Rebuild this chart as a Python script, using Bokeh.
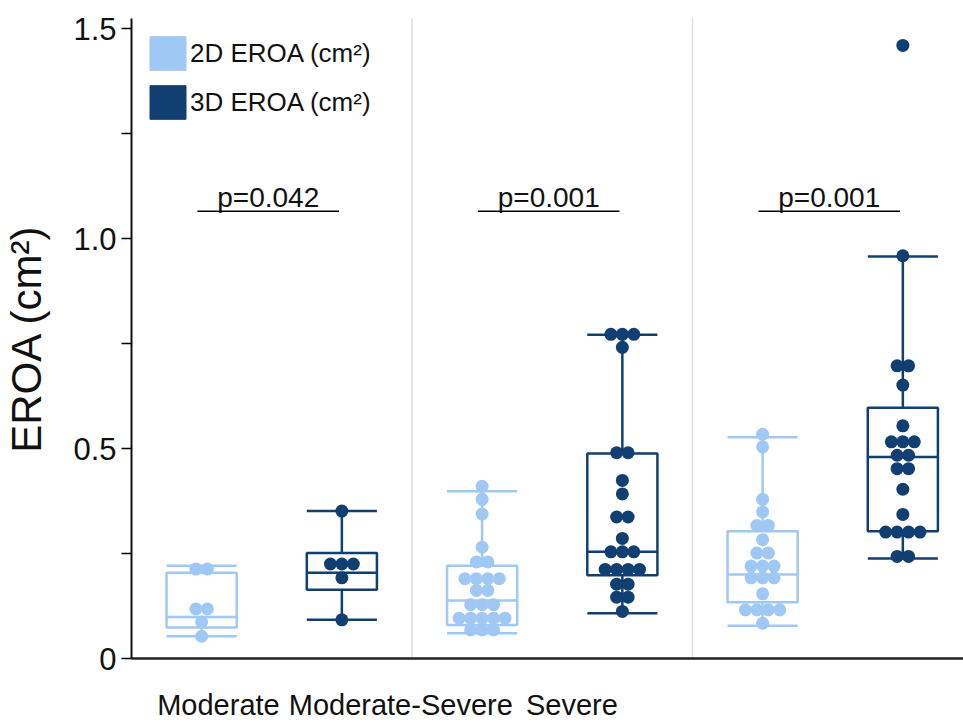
from bokeh.plotting import figure
from bokeh.models import (ColumnDataSource, FixedTicker, CustomJSTickFormatter, Span,
                          Legend, LegendItem, Range1d)
from bokeh.embed import file_html
from bokeh.resources import INLINE
from bokeh.core.properties import value

# ---------------- data ----------------
groups = ["Moderate", "Moderate-Severe", "Severe"]
series = ["2D EROA (cm²)", "3D EROA (cm²)"]
colors = ["#A0C8F5", "#123F72"]
p_values = ["p=0.042", "p=0.001", "p=0.001"]

# individual measurements (cm²)
mod_2d = [0.213, 0.213, 0.118, 0.118, 0.087, 0.053]
mod_3d = [0.351, 0.225, 0.225, 0.225, 0.192, 0.092]
modsev_2d = [0.410, 0.379, 0.344, 0.265, 0.230, 0.230,
             0.190, 0.190, 0.190, 0.190, 0.162, 0.162,
             0.128, 0.128, 0.128, 0.096, 0.096, 0.096, 0.096, 0.096,
             0.068, 0.068, 0.068]
modsev_3d = [0.772, 0.772, 0.772, 0.741, 0.490, 0.490, 0.424, 0.392,
             0.337, 0.337, 0.286, 0.254, 0.254, 0.254,
             0.212, 0.212, 0.212, 0.212, 0.177, 0.177, 0.146, 0.146, 0.112]
sev_2d = [0.534, 0.504, 0.379, 0.349, 0.317, 0.317, 0.283, 0.251, 0.251,
          0.220, 0.220, 0.220, 0.192, 0.192, 0.192, 0.154,
          0.116, 0.116, 0.116, 0.116, 0.084]
sev_3d = [1.460, 0.959, 0.697, 0.697, 0.651, 0.554, 0.516, 0.516, 0.516,
          0.484, 0.484, 0.452, 0.452, 0.403, 0.343,
          0.301, 0.301, 0.301, 0.301, 0.243, 0.243]

# box statistics: [lower whisker, Q1, median, Q3, upper whisker]
mod_2d_box = [0.053, 0.074, 0.099, 0.204, 0.221]
mod_3d_box = [0.092, 0.164, 0.204, 0.251, 0.351]
modsev_2d_box = [0.060, 0.080, 0.138, 0.221, 0.398]
modsev_3d_box = [0.108, 0.198, 0.254, 0.488, 0.771]
sev_2d_box = [0.078, 0.134, 0.200, 0.303, 0.527]
sev_3d_box = [0.238, 0.303, 0.480, 0.597, 0.957]

points = [[mod_2d, mod_3d], [modsev_2d, modsev_3d], [sev_2d, sev_3d]]
boxes = [[mod_2d_box, mod_3d_box], [modsev_2d_box, modsev_3d_box], [sev_2d_box, sev_3d_box]]

# ---------------- layout constants ----------------
FONT = "Liberation Sans"
PX_PER_UNIT = 281.5
series_offset = [0.25, 0.75]
half_box = 0.125
dot_step = 11.5 / PX_PER_UNIT
label_pos = [0.31, 0.96, 1.57]
pbar_y = 1.065
ptext_y = 1.098
pbar_span = (0.235, 0.74)

p = figure(width=963, height=724, output_backend="svg", toolbar_location=None,
           x_range=Range1d(0, 835 / PX_PER_UNIT), y_range=Range1d(0, 1.524),
           min_border_left=128, min_border_right=0, min_border_top=18, min_border_bottom=66)
p.outline_line_color = None
p.xgrid.visible = False
p.ygrid.visible = False
p.background_fill_color = "white"

# separators
for loc in [1, 2]:
    p.add_layout(Span(location=loc, dimension="height", line_color="#dcdcdc",
                      line_width=1.5, level="underlay"))


def swarm(vals, center):
    counts = {}
    for v in vals:
        counts[v] = counts.get(v, 0) + 1
    seen = {}
    xs, ys = [], []
    for v in vals:
        n = counts[v]
        i = seen.get(v, 0)
        seen[v] = i + 1
        xs.append(center + (i - (n - 1) / 2) * dot_step)
        ys.append(v)
    return xs, ys


legend_renderers = []
for s in range(2):
    seg = dict(x0=[], y0=[], x1=[], y1=[])
    box = dict(left=[], right=[], bottom=[], top=[])
    px, py = [], []
    for g in range(3):
        c = g + series_offset[s]
        lo, q1, med, q3, hi = boxes[g][s]
        box["left"].append(c - half_box); box["right"].append(c + half_box)
        box["bottom"].append(q1); box["top"].append(q3)
        for (a, b, y0, y1) in [(c, c, q3, hi), (c, c, lo, q1),
                               (c - half_box, c + half_box, hi, hi),
                               (c - half_box, c + half_box, lo, lo),
                               (c - half_box, c + half_box, med, med)]:
            seg["x0"].append(a); seg["x1"].append(b)
            seg["y0"].append(y0); seg["y1"].append(y1)
        xs, ys = swarm(points[g][s], c)
        px += xs; py += ys
    box_src = ColumnDataSource(box)
    p.quad(source=box_src, left="left", right="right", bottom="bottom", top="top",
           fill_color="white", fill_alpha=0, line_color=colors[s], line_width=2.5)
    p.segment(source=ColumnDataSource(seg), x0="x0", y0="y0", x1="x1", y1="y1",
              line_color=colors[s], line_width=2.5)
    p.scatter(x=px, y=py, size=13, fill_color=colors[s], line_color=None)
    # solid swatch for the legend only (hidden in the plot)
    lr = p.quad(source=box_src, left="left", right="right", bottom="bottom", top="top",
                fill_color=colors[s], line_color=colors[s])
    lr.visible = False
    legend_renderers.append(lr)

# p-value bars
pb = ColumnDataSource(dict(
    x0=[g + pbar_span[0] for g in range(3)],
    x1=[g + pbar_span[1] for g in range(3)],
    y=[pbar_y] * 3,
    yt=[ptext_y] * 3,
    xm=[g + (pbar_span[0] + pbar_span[1]) / 2 for g in range(3)],
    txt=p_values))
p.segment(source=pb, x0="x0", x1="x1", y0="y", y1="y", line_color="black", line_width=1.5)
p.text(source=pb, x="xm", y="yt", text="txt", text_align="center", text_baseline="middle",
       text_font=value(FONT), text_font_size="28px", text_color="#111111")

legend = Legend(items=[LegendItem(label=series[i], renderers=[legend_renderers[i]]) for i in range(2)],
                location="top_left", margin=4, padding=10, spacing=7,
                glyph_width=45, glyph_height=42, label_height=42, label_standoff=0,
                label_text_font=FONT, label_text_font_size="26px", label_text_color="#111111",
                border_line_alpha=0, background_fill_alpha=0)
p.add_layout(legend)

# y axis
yax = p.yaxis[0]
yax.ticker = FixedTicker(ticks=[0, 0.5, 1.0, 1.5], minor_ticks=[0.25, 0.75, 1.25])
yax.formatter = CustomJSTickFormatter(code="return tick == 0 ? '0' : tick.toFixed(1);")
yax.axis_label = "EROA (cm²)"
yax.axis_label_text_font = FONT
yax.axis_label_text_font_size = "42px"
yax.axis_label_text_font_style = "normal"
yax.axis_label_text_color = "#111111"
yax.axis_label_standoff = 20
yax.major_label_text_font = FONT
yax.major_label_text_font_size = "31px"
yax.major_label_text_color = "#111111"
yax.major_label_standoff = 5
yax.major_tick_out = 10
yax.major_tick_in = 0
yax.minor_tick_out = 10
yax.minor_tick_in = 0
yax.axis_line_width = 2
yax.major_tick_line_width = 1.5
yax.minor_tick_line_width = 1.5
yax.axis_line_color = "#111111"

# x axis
xax = p.xaxis[0]
xax.ticker = FixedTicker(ticks=label_pos, minor_ticks=[])
xax.formatter = CustomJSTickFormatter(args=dict(labels=groups), code="return labels[index];")
xax.major_label_text_font = FONT
xax.major_label_text_font_size = "29px"
xax.major_label_text_color = "#111111"
xax.major_label_standoff = 30
xax.major_tick_out = 0
xax.major_tick_in = 0
xax.axis_line_width = 2.5
xax.axis_line_color = "#222222"

open("out.html", "w").write(file_html(p, INLINE))
